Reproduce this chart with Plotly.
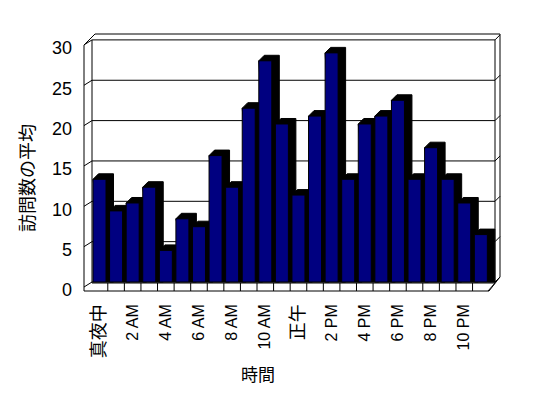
import plotly.graph_objects as go

# ---------------- data ----------------
hours = list(range(24))
visits = [13, 9, 10, 12, 4, 8, 7, 16, 12, 22, 28, 20,
          11, 21, 29, 13, 20, 21, 23, 13, 17, 13, 10, 6]
tick_hours = [0, 2, 4, 6, 8, 10, 12, 14, 16, 18, 20, 22]
tick_labels = ["真夜中", "2 AM", "4 AM", "6 AM", "8 AM", "10 AM",
               "正午", "2 PM", "4 PM", "6 PM", "8 PM", "10 PM"]
y_ticks = [0, 5, 10, 15, 20, 25, 30]
x_title = "時間"
y_title = "訪問数の平均"

# ---------------- geometry / style ----------------
W, H = 548, 398
PL, PR, PT, PB = 76, 510, 30, 300          # plot area in page px
PXX = 16.58                                 # px per category
PXY = 8.07                                  # px per value unit (back wall)
X0 = 99.5                                   # page px of category 0 centre
Y0 = 282                                    # page px of value 0 (back wall)
FRONT = 0.979                               # front face scale (perspective)
HALF = 6.5 / PXX                            # half width of bar front face
DX_L = 5.5 / PXX                            # top face left shift
DX_R = 7.5 / PXX                            # side face width
DY = 5.5 / PXY                              # top face depth
BLUE = "#000080"
FONT = "Liberation Sans, Arial, Noto Sans CJK JP, sans-serif"


def fx(px):
    return (px - X0) / PXX


def fy(py):
    return (Y0 - py) / PXY


def styled(label):
    # CJK labels are drawn a little larger, as in the original
    if any(ord(c) > 127 for c in label):
        return f"<span style='font-size:18px'>{label}</span>"
    return label


fig = go.Figure()

# bars, drawn left to right so the next bar hides the previous side face
for i, v in zip(hours, visits):
    xl, xr = i - HALF, i + HALF
    yt = v * FRONT
    fig.add_trace(go.Scatter(
        x=[xl, xl + DX_L, xr + DX_R, xr + DX_R, xr, xl],
        y=[yt, yt + DY, yt + DY, 0, 0, yt],
        mode="lines", fill="toself", fillcolor="black",
        line=dict(color="black", width=1), hoverinfo="skip", showlegend=False))
    fig.add_trace(go.Scatter(
        x=[xl, xr, xr, xl, xl],
        y=[0, 0, yt, yt, 0],
        mode="lines", fill="toself", fillcolor=BLUE,
        line=dict(color="black", width=1), name=str(i),
        hovertemplate="%{text}<extra></extra>", text=[str(v)] * 5,
        showlegend=False))

shapes = []


def seg(pts):
    d = "M " + " L ".join(f"{fx(a):.4f},{fy(b):.4f}" for a, b in pts)
    shapes.append(dict(type="path", path=d, xref="x", yref="y",
                       line=dict(color="black", width=1), layer="below"))


# gridlines on the back wall (with small diagonal ends on the side walls)
for t in y_ticks:
    py = Y0 - t * PXY
    seg([(84, py + 5), (92, py), (495, py), (500, py - 5)])

# walls and floor outline
seg([(84, 291), (84, 45), (95, 34), (500, 34), (500, 277), (489, 291)])
seg([(92, 40), (92, 283)])
seg([(495, 40), (495, 283), (488, 291)])
seg([(84, 291), (489, 291)])
seg([(92, 283), (495, 283)])
# category dividers on the floor front
for i in hours[:-1]:
    shapes.append(dict(type="line", xref="x", yref="y",
                       x0=i + 0.5, x1=i + 0.5, y0=fy(283), y1=fy(291),
                       line=dict(color="black", width=1), layer="below"))

fig.update_layout(
    width=W, height=H,
    margin=dict(l=PL, r=W - PR, t=PT, b=H - PB, autoexpand=False),
    paper_bgcolor="white", plot_bgcolor="white",
    font=dict(family=FONT, color="black", size=17),
    shapes=shapes,
    xaxis=dict(range=[fx(PL), fx(PR)], showgrid=False, zeroline=False,
               showline=False, ticks="", tickmode="array", automargin=False,
               tickvals=tick_hours, ticktext=[styled(t) for t in tick_labels],
               tickangle=-90, tickfont=dict(size=16, family=FONT)),
    yaxis=dict(range=[fy(PB), fy(PT)], showgrid=False, zeroline=False,
               showline=False, ticks="", tickmode="array", automargin=False,
               tickvals=y_ticks, ticktext=[str(t) for t in y_ticks],
               ticklabelshift=8, ticklabelstandoff=3,
               tickfont=dict(size=18, family=FONT)),
    annotations=[
        dict(text=x_title, xref="paper", yref="paper",
             x=(258 - PL) / (PR - PL), y=(PB - 375) / (PB - PT),
             showarrow=False, font=dict(size=17, family=FONT),
             xanchor="center", yanchor="middle"),
        dict(text=y_title, xref="paper", yref="paper", textangle=-90,
             x=(28 - PL) / (PR - PL), y=(PB - 178) / (PB - PT),
             showarrow=False, font=dict(size=18, family=FONT),
             xanchor="center", yanchor="middle"),
    ],
)

fig.write_html("out.html", config={"displayModeBar": False},
               post_script="document.body.style.margin='0px';"
                           "document.body.style.overflow='hidden';")
